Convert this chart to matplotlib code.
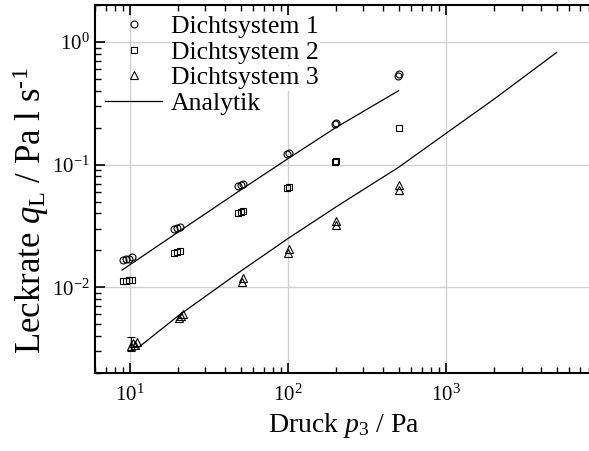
import numpy as np
import matplotlib.pyplot as plt
from matplotlib.ticker import LogLocator, LogFormatterMathtext, NullFormatter

plt.rcParams['font.family'] = ['Liberation Serif', 'DejaVu Serif']
plt.rcParams['mathtext.fontset'] = 'custom'
plt.rcParams['mathtext.rm'] = 'Liberation Serif'
plt.rcParams['mathtext.it'] = 'Liberation Serif:italic'
plt.rcParams['mathtext.bf'] = 'Liberation Serif:bold'
plt.rcParams['axes.unicode_minus'] = False

# Messwerte
p_ds1 = [9.0, 9.4, 9.8, 10.3, 19.0, 19.8, 20.6, 48, 50, 52, 99, 101, 199, 201, 498, 502]
q_ds1 = [0.0168, 0.0169, 0.0171, 0.0175, 0.0300, 0.0305, 0.0312, 0.067, 0.068, 0.0695,
         0.121, 0.124, 0.216, 0.219, 0.53, 0.545]

p_ds2 = [9.0, 9.4, 9.8, 10.3, 19.0, 19.8, 20.6, 48, 50, 52, 99, 101, 199, 201, 500]
q_ds2 = [0.0112, 0.0113, 0.0114, 0.0115, 0.0192, 0.0194, 0.0196, 0.040, 0.041, 0.0415,
         0.065, 0.066, 0.105, 0.107, 0.197]

p_ds3 = [10.2, 10.5, 10.8, 11.1, 20.3, 21.0, 21.7, 51, 52, 100, 101, 200, 201, 500, 501]
q_ds3 = [0.0033, 0.0035, 0.0034, 0.0036, 0.0056, 0.0058, 0.0060, 0.0110, 0.0118,
         0.0190, 0.0205, 0.032, 0.035, 0.062, 0.068]

# Streuung der ersten Messreihe von Dichtsystem 3
p_err = [10.2]
q_err = [0.0034]
err_lo = [0.0004]
err_hi = [0.0005]

# Analytische Loesung
p_ana1 = [8.9, 20, 50, 100, 200, 500]
q_ana1 = [0.0138, 0.028, 0.062, 0.112, 0.20, 0.40]

p_ana2 = [11.2, 20, 50, 100, 200, 500, 1000, 2000, 5000]
q_ana2 = [0.0032, 0.0058, 0.0135, 0.025, 0.045, 0.095, 0.18, 0.34, 0.82]

fig = plt.figure(figsize=(5.89, 4.51), dpi=100)
ax = fig.add_axes([95 / 589, 78 / 451, 498 / 589, 368 / 451])

mk = dict(linestyle='none', markerfacecolor='none', markeredgecolor='black',
          markeredgewidth=0.8)
ax.plot(p_ds1, q_ds1, marker='o', markersize=5, label='Dichtsystem 1', **mk)
ax.plot(p_ds2, q_ds2, marker='s', markersize=5, label='Dichtsystem 2', **mk)
ax.plot(p_ds3, q_ds3, marker='^', markersize=5.5, label='Dichtsystem 3', **mk)
ax.errorbar(p_err, q_err, yerr=[err_lo, err_hi], fmt='none', ecolor='black',
            elinewidth=0.8, capsize=3, capthick=0.8)
ax.plot(p_ana1, q_ana1, color='black', linewidth=0.9, label='Analytik')
ax.plot(p_ana2, q_ana2, color='black', linewidth=0.9)

ax.set_xscale('log')
ax.set_yscale('log')
ax.set_xlim(6, 8500)
ax.set_ylim(0.002, 2)

ax.xaxis.set_major_locator(LogLocator(base=10))
ax.yaxis.set_major_locator(LogLocator(base=10))
ax.xaxis.set_minor_locator(LogLocator(base=10, subs=np.arange(2, 10)))
ax.yaxis.set_minor_locator(LogLocator(base=10, subs=np.arange(2, 10)))
ax.xaxis.set_major_formatter(LogFormatterMathtext())
ax.yaxis.set_major_formatter(LogFormatterMathtext())
ax.xaxis.set_minor_formatter(NullFormatter())
ax.yaxis.set_minor_formatter(NullFormatter())

ax.tick_params(which='both', direction='in', top=True, right=False, labelsize=15)
ax.tick_params(which='major', length=7, width=1.2)
ax.tick_params(which='minor', length=4, width=1.0)
ax.tick_params(axis='x', pad=8)

for side in ['left', 'bottom', 'top']:
    ax.spines[side].set_linewidth(1.5)
ax.spines['right'].set_visible(False)

ax.grid(True, which='major', color='#d0d0d0', linewidth=1.0)
ax.set_axisbelow(True)

ax.set_xlabel(r'Druck $p_{3}$ / Pa', fontsize=20, labelpad=4)
ax.set_ylabel(r'Leckrate $q_{\rm L}$ / Pa l s$^{\text{-1}}$', fontsize=25)
ax.yaxis.set_label_coords(-0.088, 0.44)

leg = ax.legend(loc='upper left', frameon=False, fontsize=18.5, handlelength=2.2,
                handletextpad=0.35, labelspacing=0.1, borderaxespad=0.0,
                bbox_to_anchor=(0.0, 1.0))
for txt in leg.get_texts():
    txt.set_bbox(dict(facecolor='white', edgecolor='none', pad=1))

fig.savefig('out.png', dpi=100)
